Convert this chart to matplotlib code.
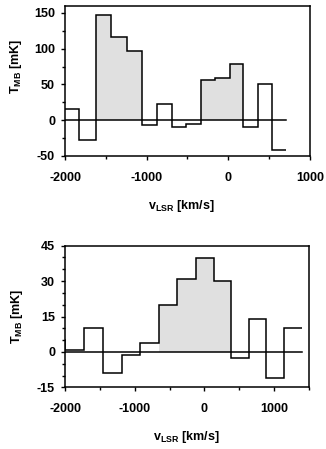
import numpy as np
import matplotlib
matplotlib.use("Agg")
import matplotlib.pyplot as plt
from matplotlib.ticker import MultipleLocator

plt.rcParams['font.family'] = ['Liberation Sans', 'DejaVu Sans']
plt.rcParams['font.weight'] = 'bold'
plt.rcParams['axes.unicode_minus'] = False
plt.rcParams['mathtext.fontset'] = 'custom'
plt.rcParams['mathtext.rm'] = 'Liberation Sans'

# top spectrum: bin edges [km/s] and T_MB [mK]
top_edges = [-2000, -1829, -1624, -1437, -1245, -1061, -878, -694, -522, -339, -163, 20, 184, 367, 531, 702]
top_vals = [15, -27, 147, 116, 96, -7, 23, -9, -6, 56, 59, 79, -9, 50, -42]
top_shaded = [(2, 5), (9, 12)]  # bin index ranges that are filled

# bottom spectrum (first bin lies left of the plotted range)
bot_edges = [-2260, -2000, -1726, -1458, -1184, -920, -656, -392, -128, 136, 386, 640, 890, 1135, 1394]
bot_vals = [5, 0.7, 10, -9, -1.4, 3.8, 20, 31, 39.6, 30, -2.6, 13.8, -11, 10]
bot_shaded = [(6, 10)]

fig = plt.figure(figsize=(3.26, 4.49), dpi=100)
ax1 = fig.add_axes([0.1994, 0.6526, 0.7515, 0.3348])
ax2 = fig.add_axes([0.1994, 0.1374, 0.7485, 0.3154])

def draw(ax, edges, vals, shaded, xlim, ylim, ymaj, ymin):
	for i0, i1 in shaded:
		ax.stairs(vals[i0:i1], edges[i0:i1 + 1], baseline=0, fill=True, color='#e0e0e0', lw=0)
	ax.stairs(vals, edges, baseline=None, color='black', lw=1.1)
	lo = max(edges[0], xlim[0])
	ax.plot([lo, edges[-1]], [0, 0], color='black', lw=1.1)
	ax.set_xlim(*xlim)
	ax.set_ylim(*ylim)
	ax.xaxis.set_major_locator(MultipleLocator(1000))
	ax.xaxis.set_minor_locator(MultipleLocator(500))
	ax.yaxis.set_major_locator(MultipleLocator(ymaj))
	ax.yaxis.set_minor_locator(MultipleLocator(ymin))
	ax.tick_params(which='major', direction='out', length=3.2, width=1.0, labelsize=9)
	ax.tick_params(which='minor', direction='out', length=2.2, width=1.0)
	ax.tick_params(axis='x', which='major', pad=8)
	ax.tick_params(axis='y', which='major', pad=4)
	for lab in ax.get_xticklabels() + ax.get_yticklabels():
		lab.set_fontweight('bold')
	for s in ax.spines.values():
		s.set_linewidth(1.1)

draw(ax1, top_edges, top_vals, top_shaded, (-2000, 1000), (-50, 160), 50, 25)
draw(ax2, bot_edges, bot_vals, bot_shaded, (-2000, 1500), (-15, 45), 15, 5)

for ax, ylab_y, xlab_x, xlab_y, ylab_x in [(ax1, 0.597, 0.473, -0.33, -0.201), (ax2, 0.5, 0.495, -0.35, -0.195)]:
	ax.set_ylabel(r'T$_{\rm MB}$ [mK]', fontsize=9, fontweight='bold', va='center')
	ax.yaxis.set_label_coords(ylab_x, ylab_y)
	ax.set_xlabel(r'v$_{\rm LSR}$ [km/s]', fontsize=9, fontweight='bold', va='center')
	ax.xaxis.set_label_coords(xlab_x, xlab_y)

fig.savefig('out.png', dpi=100)
